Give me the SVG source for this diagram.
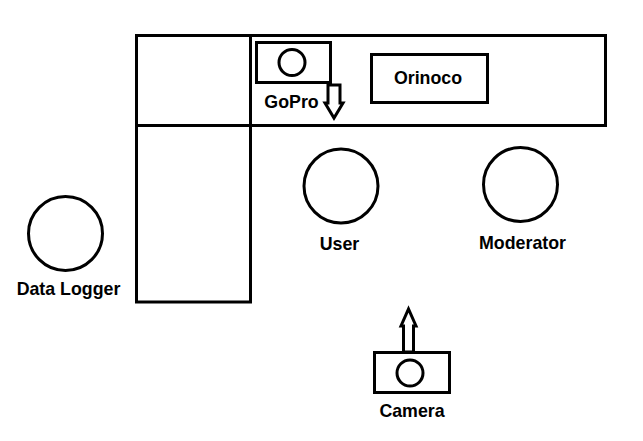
<svg xmlns="http://www.w3.org/2000/svg" width="643" height="441" viewBox="0 0 643 441">
<style>
.s{fill:none;stroke:#000;stroke-width:3}
.w{fill:#fff;stroke:#000;stroke-width:3}
text{font-family:"Liberation Sans",Arial,sans-serif;font-weight:700;font-size:17.800px;fill:#000;text-anchor:middle}
</style>
<rect width="643" height="441" fill="#fff"/>
<g id="room">
<rect class="s" x="136.500" y="35.500" width="469" height="90"/>
<rect class="s" x="136.500" y="35.500" width="114" height="266.500"/>
<line class="s" x1="136.500" y1="125.500" x2="250.500" y2="125.500"/>
</g>
<g id="connectors">
<path class="w" d="M328 85H340V103H343L334 118L325 103H328Z"/>
<path class="w" d="M403.500 352V326H401L408.500 309L416 326H413.500V352Z"/>
</g>
<g id="gopro">
<rect class="s" x="256.500" y="42.500" width="74" height="40"/>
<circle class="s" cx="292" cy="62.500" r="13"/>
<text x="291.500" y="108">GoPro</text>
</g>
<g id="orinoco">
<rect class="s" x="371.500" y="54.500" width="116" height="48"/>
<text x="428" y="84">Orinoco</text>
</g>
<g id="user">
<circle class="s" cx="341" cy="186" r="37"/>
<text x="339.500" y="249.500">User</text>
</g>
<g id="moderator">
<circle class="s" cx="520.500" cy="184.500" r="37"/>
<text x="522.500" y="248.500">Moderator</text>
</g>
<g id="data-logger">
<circle class="s" cx="65.500" cy="233.500" r="37"/>
<text x="68.500" y="294.500">Data Logger</text>
</g>
<g id="camera">
<rect class="s" x="374.500" y="352.500" width="75" height="40"/>
<circle class="s" cx="410" cy="373" r="13"/>
<text x="412" y="416.500">Camera</text>
</g>
</svg>
